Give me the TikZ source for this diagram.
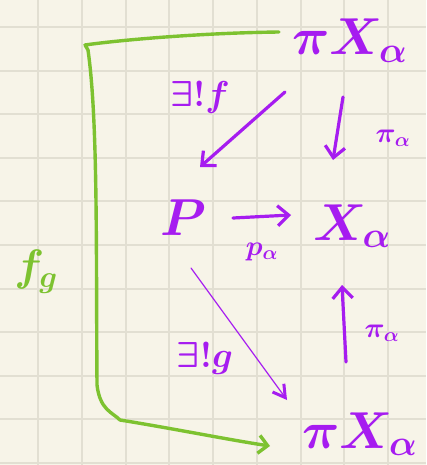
\RequirePackage{fix-cm}
\documentclass[tikz,border=0pt]{standalone}
\usetikzlibrary{arrows.meta}
\definecolor{paper}{HTML}{F7F4E8}
\definecolor{gridc}{HTML}{E2DFD2}
\definecolor{purp}{HTML}{A61CF0}
\definecolor{grn}{HTML}{7DC230}
\tikzset{
  big/.style={text=purp, inner sep=2pt, font=\fontsize{52}{56}\selectfont\boldmath},
  lab/.style={text=purp, inner sep=1pt, font=\fontsize{36}{40}\selectfont\boldmath},
  small/.style={text=purp, inner sep=1pt, font=\fontsize{28}{32}\selectfont\boldmath},
  arr/.style={draw=purp, line width=3.2pt, line cap=round, line join=round,
    -{Straight Barb[length=11pt, width=20pt, line width=3.2pt]}},
  thinarr/.style={draw=purp, line width=1.2pt, line cap=round,
    -{Straight Barb[length=12pt, width=14pt, line width=3pt]}},
  grnarr/.style={draw=grn, line width=3.4pt, line cap=round, line join=round,
    -{Straight Barb[length=9pt, width=18pt, line width=3.4pt]}}
}
\begin{document}
\begin{tikzpicture}[x=1pt,y=-1pt]
\useasboundingbox (0,0) rectangle (426,465);
\fill[paper] (0,0) rectangle (426,465);
\foreach \i in {0,...,8} \draw[gridc, line width=2pt] ({38+43.75*\i},0) -- ({38+43.75*\i},465);
\foreach \j in {0,...,10} \draw[gridc, line width=2pt] (0,{27+43.6*\j}) -- (426,{27+43.6*\j});

\node[big, anchor=base] (top) at (350,55) {$\pi X_\alpha$};
\node[big, anchor=base] (P) at (183,235) {$P$};
\node[big, anchor=base] (Xa) at (352,240) {$X_\alpha$};
\node[big, anchor=base] (bot) at (360,448) {$\pi X_\alpha$};

\node[lab] (lf) at (200,98) {$\exists! f$};
\node[small] (lpi1) at (393,138) {$\pi_\alpha$};
\node[small] (lp) at (262,252) {$p_\alpha$};
\node[lab] (lg) at (205,358) {$\exists! g$};
\node[small] (lpi2) at (382,333) {$\pi_\alpha$};
\node[text=grn, inner sep=1pt, font=\fontsize{44}{48}\selectfont\boldmath] (lfg) at (36,272) {$f_g$};

\draw[arr] ([shift={(-65,37)}]top.base) -- ([shift={(17,-68)}]P.base);
\draw[arr] ([shift={(-7,42)}]top.base) -- ([shift={(-19,-80)}]Xa.base);
\draw[arr] ([shift={(50,-17)}]P.base) -- ([shift={(-61,-25)}]Xa.base);
\draw[thinarr] ([shift={(8,33)}]P.base) -- ([shift={(-73,-48)}]bot.base);
\draw[arr] ([shift={(-14,-86)}]bot.base) -- ([shift={(-10,45)}]Xa.base);
\draw[grnarr] ([shift={(-71,-23)}]top.base) .. controls (200,33) and (120,40) .. (85,45)
  -- (88,50) .. controls (98,120) and (96,250) .. (97,385)
  .. controls (100,410) and (112,412) .. (120,420)
  .. controls (170,428) and (230,440) .. ([shift={(-90,-2)}]bot.base);
\end{tikzpicture}
\end{document}
